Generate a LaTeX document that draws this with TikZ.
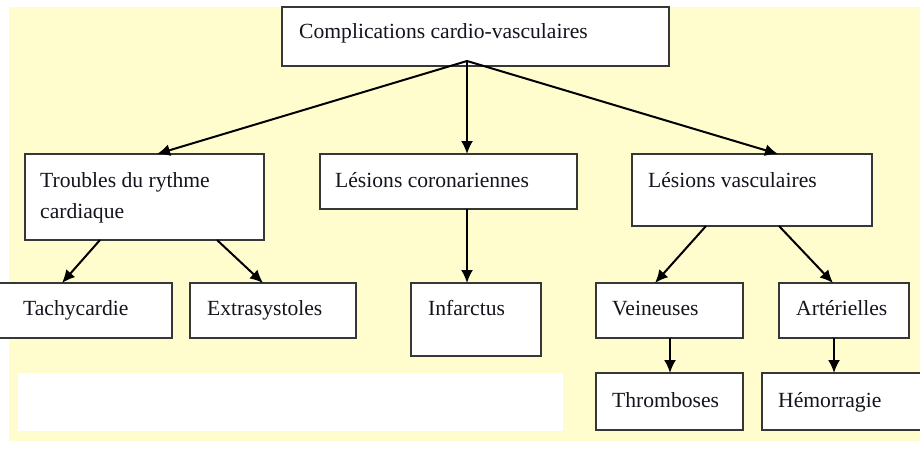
\documentclass[tikz,border=0pt]{standalone}
\usepackage{fontspec}
\setmainfont{Liberation Serif}
\usetikzlibrary{arrows.meta,calc}

\definecolor{paper}{RGB}{255,252,206}
\definecolor{frame}{RGB}{55,55,55}
\definecolor{ink}{RGB}{20,20,30}

\tikzset{
  box/.style={draw=frame, line width=1.5pt, fill=white, rectangle,
              inner sep=0pt, outer sep=0pt, anchor=north west},
  lbl/.style={anchor=base west, inner sep=0pt, text=ink,
              font=\fontsize{21.6}{26}\selectfont},
  link/.style={line width=2pt, draw=black,
               -{Latex[length=13pt,width=12pt]}}
}

\begin{document}
\begin{tikzpicture}[x=1pt,y=-1pt]
  \useasboundingbox (0,0) rectangle (920,450);
  \clip (0,0) rectangle (920,450);

  % yellow panel and the blank strip in it
  \fill[paper] (9,7) rectangle (920,441);
  \fill[white] (18,373) rectangle (563,431);

  % top level
  \node[box, minimum width=387pt, minimum height=59pt] (root) at (282,7) {};
  \node[lbl] (rootT) at (299,38) {Complications cardio-vasculaires};

  % second level
  \node[box, minimum width=239pt, minimum height=86pt] (troubles) at (25,154) {};
  \node[lbl] (troublesA) at (40,187) {Troubles du rythme};
  \node[lbl] (troublesB) at (40,218) {cardiaque};

  \node[box, minimum width=257pt, minimum height=55pt] (coro) at (320,154) {};
  \node[lbl] (coroT) at (335,187) {Lésions coronariennes};

  \node[box, minimum width=240pt, minimum height=72pt] (vasc) at (632,154) {};
  \node[lbl] (vascT) at (648,187) {Lésions vasculaires};

  % third level
  \node[box, minimum width=182pt, minimum height=55pt] (tachy) at (-10,283) {};
  \node[lbl] (tachyT) at (23,315) {Tachycardie};

  \node[box, minimum width=166pt, minimum height=55pt] (extra) at (190,283) {};
  \node[lbl] (extraT) at (207,315) {Extrasystoles};

  \node[box, minimum width=130pt, minimum height=73pt] (infarct) at (411,283) {};
  \node[lbl] (infarctT) at (428,315) {Infarctus};

  \node[box, minimum width=147pt, minimum height=55pt] (vein) at (596,283) {};
  \node[lbl] (veinT) at (612,315) {Veineuses};

  \node[box, minimum width=130pt, minimum height=55pt] (arter) at (779,283) {};
  \node[lbl] (arterT) at (796,315) {Artérielles};

  % fourth level
  \node[box, minimum width=147pt, minimum height=57pt] (thromb) at (596,373) {};
  \node[lbl] (thrombT) at (612,407) {Thromboses};

  \node[box, minimum width=170pt, minimum height=57pt] (hemo) at (762,373) {};
  \node[lbl] (hemoT) at (778,407) {Hémorragie};

  % connectors
  \coordinate (fan) at ($(root.north west)+(185,54)$);
  \draw[link] (fan) -- ($(troubles.north west)+(132,0)$);
  \draw[link] (fan) -- ($(coro.north west)+(147,0)$);
  \draw[link] (fan) -- ($(vasc.north west)+(146,0)$);

  \draw[link] ($(troubles.south west)+(75,0)$) -- ($(tachy.north west)+(72,0)$);
  \draw[link] ($(troubles.south west)+(192,0)$) -- ($(extra.north west)+(73,0)$);
  \draw[link] ($(coro.south west)+(147,0)$) -- ($(infarct.north west)+(56,0)$);
  \draw[link] ($(vasc.south west)+(74,0)$) -- ($(vein.north west)+(59,0)$);
  \draw[link] ($(vasc.south west)+(147,0)$) -- ($(arter.north west)+(54,0)$);
  \draw[link] ($(vein.south west)+(74,0)$) -- ($(thromb.north west)+(74,0)$);
  \draw[link] ($(arter.south west)+(55,0)$) -- ($(hemo.north west)+(72,0)$);
\end{tikzpicture}
\end{document}
